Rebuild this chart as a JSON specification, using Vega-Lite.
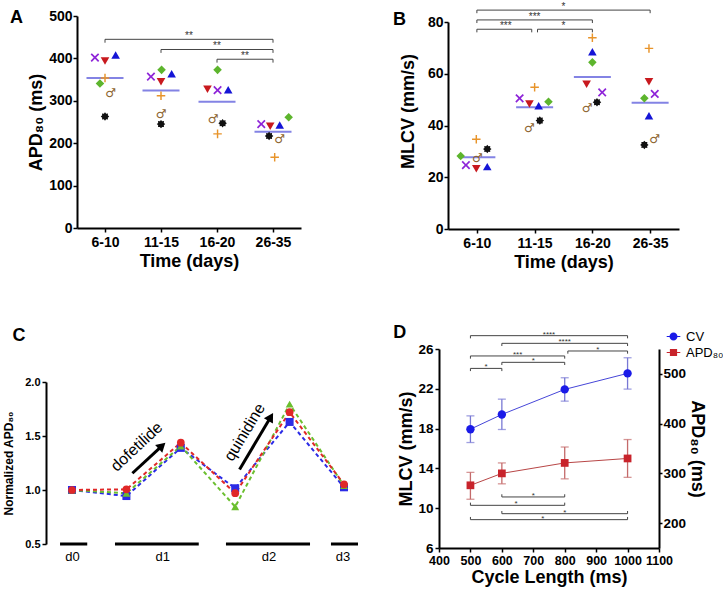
{
  "$schema": "https://vega.github.io/schema/vega-lite/v6.json",
  "width": 723,
  "height": 591,
  "autosize": {"type": "none"},
  "padding": 0,
  "config": {
    "font": "Liberation Sans",
    "view": {"stroke": null},
    "axis": {"grid": false, "domainColor": "#000", "domainWidth": 2, "tickColor": "#000", "tickWidth": 1.5, "tickSize": 4, "labelColor": "#000", "titleColor": "#000", "labelFontWeight": "bold", "titleFontWeight": "bold", "labelFont": "Liberation Sans", "titleFont": "Liberation Sans", "labelOverlap": false, "labelFlush": false},
    "text": {"font": "Liberation Sans"}
  },
  "datasets": {
    "letters": [
      {"panel": "A", "x": -0.696, "y": 483.5},
      {"panel": "B", "x": -0.452, "y": 78.8},
      {"panel": "C", "x": -1.092, "y": 2.38},
      {"panel": "D", "x": 254.6, "y": 27.1}
    ],
    "ptsA": [
      {"group": "6-10", "pos": 0.82, "sym": "x", "apd": 402},
      {"group": "6-10", "pos": 1.0, "sym": "down", "apd": 394},
      {"group": "6-10", "pos": 1.19, "sym": "up", "apd": 408},
      {"group": "6-10", "pos": 1.0, "sym": "plus", "apd": 354},
      {"group": "6-10", "pos": 0.91, "sym": "diamond", "apd": 341},
      {"group": "6-10", "pos": 1.1, "sym": "male", "apd": 318},
      {"group": "6-10", "pos": 1.0, "sym": "star", "apd": 263},
      {"group": "11-15", "pos": 1.82, "sym": "x", "apd": 357},
      {"group": "11-15", "pos": 2.01, "sym": "diamond", "apd": 373},
      {"group": "11-15", "pos": 2.19, "sym": "up", "apd": 364},
      {"group": "11-15", "pos": 2.0, "sym": "down", "apd": 345},
      {"group": "11-15", "pos": 2.0, "sym": "plus", "apd": 312},
      {"group": "11-15", "pos": 2.0, "sym": "male", "apd": 270},
      {"group": "11-15", "pos": 2.0, "sym": "star", "apd": 245},
      {"group": "16-20", "pos": 3.01, "sym": "diamond", "apd": 373},
      {"group": "16-20", "pos": 2.83, "sym": "down", "apd": 327},
      {"group": "16-20", "pos": 3.01, "sym": "x", "apd": 325},
      {"group": "16-20", "pos": 3.2, "sym": "up", "apd": 326},
      {"group": "16-20", "pos": 2.93, "sym": "male", "apd": 256},
      {"group": "16-20", "pos": 3.1, "sym": "star", "apd": 247},
      {"group": "16-20", "pos": 3.01, "sym": "plus", "apd": 222},
      {"group": "26-35", "pos": 3.79, "sym": "x", "apd": 245},
      {"group": "26-35", "pos": 3.95, "sym": "down", "apd": 240},
      {"group": "26-35", "pos": 4.12, "sym": "up", "apd": 243},
      {"group": "26-35", "pos": 4.28, "sym": "diamond", "apd": 261},
      {"group": "26-35", "pos": 3.93, "sym": "star", "apd": 217},
      {"group": "26-35", "pos": 4.12, "sym": "male", "apd": 211},
      {"group": "26-35", "pos": 4.03, "sym": "plus", "apd": 167}
    ],
    "meansA": [
      {"group": "6-10", "pos": 1, "mean": 354},
      {"group": "11-15", "pos": 2, "mean": 324},
      {"group": "16-20", "pos": 3, "mean": 298},
      {"group": "26-35", "pos": 4, "mean": 227}
    ],
    "bracketsA": [
      {"from": 1, "to": 4, "y": 445, "ytick": 437, "mid": 2.5, "label": "**"},
      {"from": 2, "to": 4, "y": 421, "ytick": 413, "mid": 3, "label": "**"},
      {"from": 3, "to": 4, "y": 398, "ytick": 390, "mid": 3.5, "label": "**"}
    ],
    "ptsB": [
      {"group": "6-10", "pos": 0.72, "sym": "diamond", "mlcv": 28.2},
      {"group": "6-10", "pos": 0.81, "sym": "x", "mlcv": 24.7},
      {"group": "6-10", "pos": 0.99, "sym": "down", "mlcv": 23.3},
      {"group": "6-10", "pos": 1.18, "sym": "up", "mlcv": 24.1},
      {"group": "6-10", "pos": 0.99, "sym": "plus", "mlcv": 34.7},
      {"group": "6-10", "pos": 1.01, "sym": "male", "mlcv": 27.3},
      {"group": "6-10", "pos": 1.18, "sym": "star", "mlcv": 30.9},
      {"group": "11-15", "pos": 2.0, "sym": "plus", "mlcv": 54.8},
      {"group": "11-15", "pos": 1.74, "sym": "x", "mlcv": 50.5},
      {"group": "11-15", "pos": 1.91, "sym": "down", "mlcv": 48.3},
      {"group": "11-15", "pos": 2.07, "sym": "up", "mlcv": 47.6},
      {"group": "11-15", "pos": 2.24, "sym": "diamond", "mlcv": 49.2},
      {"group": "11-15", "pos": 2.09, "sym": "star", "mlcv": 41.9},
      {"group": "11-15", "pos": 1.91, "sym": "male", "mlcv": 38.9},
      {"group": "16-20", "pos": 3.0, "sym": "plus", "mlcv": 73.9},
      {"group": "16-20", "pos": 3.0, "sym": "up", "mlcv": 68.5},
      {"group": "16-20", "pos": 3.0, "sym": "diamond", "mlcv": 64.4},
      {"group": "16-20", "pos": 2.9, "sym": "down", "mlcv": 55.9},
      {"group": "16-20", "pos": 3.17, "sym": "x", "mlcv": 52.8},
      {"group": "16-20", "pos": 3.08, "sym": "star", "mlcv": 49.0},
      {"group": "16-20", "pos": 2.91, "sym": "male", "mlcv": 46.6},
      {"group": "26-35", "pos": 3.98, "sym": "plus", "mlcv": 69.8},
      {"group": "26-35", "pos": 3.98, "sym": "down", "mlcv": 56.9},
      {"group": "26-35", "pos": 4.08, "sym": "x", "mlcv": 52.2},
      {"group": "26-35", "pos": 3.9, "sym": "diamond", "mlcv": 50.5},
      {"group": "26-35", "pos": 3.98, "sym": "up", "mlcv": 43.8},
      {"group": "26-35", "pos": 3.9, "sym": "star", "mlcv": 32.5},
      {"group": "26-35", "pos": 4.08, "sym": "male", "mlcv": 34.7}
    ],
    "meansB": [
      {"group": "6-10", "pos": 1, "mean": 27.7},
      {"group": "11-15", "pos": 2, "mean": 47.1},
      {"group": "16-20", "pos": 3, "mean": 58.7},
      {"group": "26-35", "pos": 4, "mean": 48.8}
    ],
    "bracketsB": [
      {"from": 1, "to": 4, "y": 84.6, "ytick": 83.4, "mid": 2.5, "label": "*"},
      {"from": 1, "to": 3, "y": 80.8, "ytick": 79.6, "mid": 2, "label": "***"},
      {"from": 1, "to": 1.95, "y": 77.2, "ytick": 76.0, "mid": 1.5, "label": "***"},
      {"from": 2.05, "to": 3, "y": 77.2, "ytick": 76.0, "mid": 2.5, "label": "*"}
    ],
    "normC": [
      {"step": 0, "stage": "d0", "series": "blue", "value": 1.0},
      {"step": 1, "stage": "d1", "series": "blue", "value": 0.944},
      {"step": 2, "stage": "d1 dofetilide", "series": "blue", "value": 1.39},
      {"step": 3, "stage": "d2", "series": "blue", "value": 1.016},
      {"step": 4, "stage": "d2 quinidine", "series": "blue", "value": 1.63},
      {"step": 5, "stage": "d3", "series": "blue", "value": 1.025},
      {"step": 0, "stage": "d0", "series": "green", "value": 1.0},
      {"step": 1, "stage": "d1", "series": "green", "value": 0.97},
      {"step": 2, "stage": "d1 dofetilide", "series": "green", "value": 1.407},
      {"step": 3, "stage": "d2", "series": "green", "value": 0.845},
      {"step": 4, "stage": "d2 quinidine", "series": "green", "value": 1.795},
      {"step": 5, "stage": "d3", "series": "green", "value": 1.04},
      {"step": 0, "stage": "d0", "series": "red", "value": 1.0},
      {"step": 1, "stage": "d1", "series": "red", "value": 1.006},
      {"step": 2, "stage": "d1 dofetilide", "series": "red", "value": 1.438},
      {"step": 3, "stage": "d2", "series": "red", "value": 0.97},
      {"step": 4, "stage": "d2 quinidine", "series": "red", "value": 1.72},
      {"step": 5, "stage": "d3", "series": "red", "value": 1.053}
    ],
    "phasesC": [
      {"phase": "d0", "start": -0.22, "end": 0.28, "lab": 0.01},
      {"phase": "d1", "start": 0.79, "end": 2.33, "lab": 1.67},
      {"phase": "d2", "start": 2.83, "end": 4.375, "lab": 3.62},
      {"phase": "d3", "start": 4.76, "end": 5.257, "lab": 4.98}
    ],
    "arrowsC": [
      {"drug": "dofetilide", "x0": 1.11, "y0": 1.155, "x1": 1.655, "y1": 1.409, "ang": 47, "tx": 1.19, "ty": 1.40, "tang": -43},
      {"drug": "quinidine", "x0": 3.08, "y0": 1.19, "x1": 3.653, "y1": 1.676, "ang": 31, "tx": 3.175, "ty": 1.534, "tang": -59}
    ],
    "cycleD": [
      {"series": "CV", "cl": 500, "mean": 17.94, "lo": 16.6, "hi": 19.28},
      {"series": "CV", "cl": 600, "mean": 19.42, "lo": 17.91, "hi": 20.96},
      {"series": "CV", "cl": 800, "mean": 21.94, "lo": 20.76, "hi": 23.11},
      {"series": "CV", "cl": 1000, "mean": 23.55, "lo": 21.97, "hi": 25.12},
      {"series": "APD₈₀", "cl": 500, "mean": 276, "lo": 248, "hi": 302},
      {"series": "APD₈₀", "cl": 600, "mean": 300, "lo": 279, "hi": 321},
      {"series": "APD₈₀", "cl": 800, "mean": 321, "lo": 289, "hi": 353},
      {"series": "APD₈₀", "cl": 1000, "mean": 330, "lo": 292, "hi": 368}
    ],
    "bracketsD": [
      {"from": 500, "to": 1000, "y": 27.34, "ytick": 27.07, "mid": 750, "label": "****"},
      {"from": 600, "to": 1000, "y": 26.57, "ytick": 26.3, "mid": 800, "label": "****"},
      {"from": 810, "to": 1000, "y": 25.8, "ytick": 25.53, "mid": 905, "label": "*"},
      {"from": 500, "to": 800, "y": 25.3, "ytick": 25.03, "mid": 650, "label": "***"},
      {"from": 600, "to": 800, "y": 24.66, "ytick": 24.39, "mid": 700, "label": "*"},
      {"from": 500, "to": 600, "y": 24.05, "ytick": 23.78, "mid": 550, "label": "*"},
      {"from": 600, "to": 800, "y": 11.13, "ytick": 11.4, "mid": 700, "label": "*"},
      {"from": 500, "to": 800, "y": 10.29, "ytick": 10.56, "mid": 645, "label": "*"},
      {"from": 600, "to": 1000, "y": 9.45, "ytick": 9.72, "mid": 800, "label": "*"},
      {"from": 500, "to": 1000, "y": 8.85, "ytick": 9.12, "mid": 730, "label": "*"}
    ]
  },
  "layer": [
    {
      "layer": [
        {"data": {"name": "letters"}, "transform": [{"filter": "datum.panel == 'A'"}], "mark": {"type": "text", "fontSize": 18, "fontWeight": "bold", "align": "left", "baseline": "alphabetic", "fill": "#000"},
         "encoding": {"x": {"field": "x", "type": "quantitative", "scale": {"domain": [0.5, 4.5], "range": [77, 301], "nice": false, "zero": false}}, "y": {"field": "y", "type": "quantitative", "scale": {"domain": [0, 500], "range": [228, 16], "nice": false, "zero": false}}, "text": {"field": "panel"}}},
        {"data": {"name": "bracketsA"}, "mark": {"type": "rule", "color": "#444", "strokeWidth": 1},
         "encoding": {"x": {"field": "from", "type": "quantitative", "scale": {"domain": [0.5, 4.5], "range": [77, 301], "nice": false, "zero": false}}, "x2": {"field": "to"}, "y": {"field": "y", "type": "quantitative", "scale": {"domain": [0, 500], "range": [228, 16], "nice": false, "zero": false}}}},
        {"data": {"name": "bracketsA"}, "mark": {"type": "rule", "color": "#444", "strokeWidth": 1},
         "encoding": {"x": {"field": "from", "type": "quantitative", "scale": {"domain": [0.5, 4.5], "range": [77, 301], "nice": false, "zero": false}}, "y": {"field": "y", "type": "quantitative", "scale": {"domain": [0, 500], "range": [228, 16], "nice": false, "zero": false}}, "y2": {"field": "ytick"}}},
        {"data": {"name": "bracketsA"}, "mark": {"type": "rule", "color": "#444", "strokeWidth": 1},
         "encoding": {"x": {"field": "to", "type": "quantitative", "scale": {"domain": [0.5, 4.5], "range": [77, 301], "nice": false, "zero": false}}, "y": {"field": "y", "type": "quantitative", "scale": {"domain": [0, 500], "range": [228, 16], "nice": false, "zero": false}}, "y2": {"field": "ytick"}}},
        {"data": {"name": "bracketsA"}, "mark": {"type": "text", "fontSize": 10, "baseline": "alphabetic", "fill": "#333"},
         "encoding": {"x": {"field": "mid", "type": "quantitative", "scale": {"domain": [0.5, 4.5], "range": [77, 301], "nice": false, "zero": false}}, "y": {"field": "y", "type": "quantitative", "scale": {"domain": [0, 500], "range": [228, 16], "nice": false, "zero": false}}, "text": {"field": "label"}}},
        {"data": {"name": "meansA"}, "mark": {"type": "tick", "orient": "horizontal", "size": 37, "thickness": 2, "color": "#4f4fd9"},
         "encoding": {"x": {"field": "pos", "type": "quantitative", "scale": {"domain": [0.5, 4.5], "range": [77, 301], "nice": false, "zero": false}}, "y": {"field": "mean", "type": "quantitative", "scale": {"domain": [0, 500], "range": [228, 16], "nice": false, "zero": false}}}},
        {"data": {"name": "ptsA"}, "transform": [{"filter": "datum.sym != 'male'"}], "mark": {"type": "point", "filled": true, "opacity": 1},
         "encoding": {
           "x": {"field": "pos", "type": "quantitative", "scale": {"domain": [0.5, 4.5], "range": [77, 301], "nice": false, "zero": false},
                 "axis": {"orient": "bottom", "offset": -363, "values": [1, 2, 3, 4], "labelExpr": "['6-10','11-15','16-20','26-35'][datum.value-1]", "title": "Time (days)", "labelFontSize": 14, "titleFontSize": 18, "labelPadding": 3, "titlePadding": 3, "labelOverlap": false, "labelFlush": false}},
           "y": {"field": "apd", "type": "quantitative", "scale": {"domain": [0, 500], "range": [228, 16], "nice": false, "zero": false},
                 "axis": {"orient": "left", "offset": -77, "values": [0, 100, 200, 300, 400, 500], "title": "APD₈₀ (ms)", "labelFontSize": 14, "titleFontSize": 18, "labelPadding": 1, "titlePadding": 3, "labelOverlap": false, "labelFlush": false}},
           "shape": {"field": "sym", "type": "nominal", "legend": null, "scale": {"domain": ["x", "down", "up", "diamond", "plus", "star"], "range": ["M-1,-0.72L-0.72,-1L0,-0.28L0.72,-1L1,-0.72L0.28,0L1,0.72L0.72,1L0,0.28L-0.72,1L-1,0.72L-0.28,0Z", "triangle-down", "triangle-up", "diamond", "M-0.17,-1H0.17V-0.17H1V0.17H0.17V1H-0.17V0.17H-1V-0.17H-0.17Z", "M1,0L0.665,0.276L0.707,0.707L0.276,0.665L0,1L-0.276,0.665L-0.707,0.707L-0.665,0.276L-1,0L-0.665,-0.276L-0.707,-0.707L-0.276,-0.665L0,-1L0.276,-0.665L0.707,-0.707L0.665,-0.276Z"]}},
           "color": {"field": "sym", "type": "nominal", "legend": null, "scale": {"domain": ["x", "down", "up", "diamond", "plus", "star"], "range": ["#8e24d8", "#c8191e", "#1515d6", "#5db52d", "#e8942a", "#111111"]}},
           "size": {"field": "sym", "type": "ordinal", "legend": null, "scale": {"domain": ["x", "down", "up", "diamond", "plus", "star"], "range": [75, 72, 72, 72, 60, 55]}}
         }},
        {"data": {"name": "ptsA"}, "transform": [{"filter": "datum.sym == 'male'"}], "mark": {"type": "text", "text": "♂", "font": "DejaVu Sans", "fontWeight": "bold", "fontSize": 12, "fill": "#8c6430", "baseline": "middle", "align": "center"},
         "encoding": {"x": {"field": "pos", "type": "quantitative", "scale": {"domain": [0.5, 4.5], "range": [77, 301], "nice": false, "zero": false}}, "y": {"field": "apd", "type": "quantitative", "scale": {"domain": [0, 500], "range": [228, 16], "nice": false, "zero": false}}}}
      ]
    },
    {
      "layer": [
        {"data": {"name": "letters"}, "transform": [{"filter": "datum.panel == 'B'"}], "mark": {"type": "text", "fontSize": 18, "fontWeight": "bold", "align": "left", "baseline": "alphabetic", "fill": "#000"},
         "encoding": {"x": {"field": "x", "type": "quantitative", "scale": {"domain": [0.5, 4.5], "range": [448, 679], "nice": false, "zero": false}}, "y": {"field": "y", "type": "quantitative", "scale": {"domain": [0, 80], "range": [229, 22], "nice": false, "zero": false}}, "text": {"field": "panel"}}},
        {"data": {"name": "bracketsB"}, "mark": {"type": "rule", "color": "#444", "strokeWidth": 1},
         "encoding": {"x": {"field": "from", "type": "quantitative", "scale": {"domain": [0.5, 4.5], "range": [448, 679], "nice": false, "zero": false}}, "x2": {"field": "to"}, "y": {"field": "y", "type": "quantitative", "scale": {"domain": [0, 80], "range": [229, 22], "nice": false, "zero": false}}}},
        {"data": {"name": "bracketsB"}, "mark": {"type": "rule", "color": "#444", "strokeWidth": 1},
         "encoding": {"x": {"field": "from", "type": "quantitative", "scale": {"domain": [0.5, 4.5], "range": [448, 679], "nice": false, "zero": false}}, "y": {"field": "y", "type": "quantitative", "scale": {"domain": [0, 80], "range": [229, 22], "nice": false, "zero": false}}, "y2": {"field": "ytick"}}},
        {"data": {"name": "bracketsB"}, "mark": {"type": "rule", "color": "#444", "strokeWidth": 1},
         "encoding": {"x": {"field": "to", "type": "quantitative", "scale": {"domain": [0.5, 4.5], "range": [448, 679], "nice": false, "zero": false}}, "y": {"field": "y", "type": "quantitative", "scale": {"domain": [0, 80], "range": [229, 22], "nice": false, "zero": false}}, "y2": {"field": "ytick"}}},
        {"data": {"name": "bracketsB"}, "mark": {"type": "text", "fontSize": 10, "baseline": "alphabetic", "fill": "#333"},
         "encoding": {"x": {"field": "mid", "type": "quantitative", "scale": {"domain": [0.5, 4.5], "range": [448, 679], "nice": false, "zero": false}}, "y": {"field": "y", "type": "quantitative", "scale": {"domain": [0, 80], "range": [229, 22], "nice": false, "zero": false}}, "text": {"field": "label"}}},
        {"data": {"name": "meansB"}, "mark": {"type": "tick", "orient": "horizontal", "size": 37, "thickness": 2, "color": "#4f4fd9"},
         "encoding": {"x": {"field": "pos", "type": "quantitative", "scale": {"domain": [0.5, 4.5], "range": [448, 679], "nice": false, "zero": false}}, "y": {"field": "mean", "type": "quantitative", "scale": {"domain": [0, 80], "range": [229, 22], "nice": false, "zero": false}}}},
        {"data": {"name": "ptsB"}, "transform": [{"filter": "datum.sym != 'male'"}], "mark": {"type": "point", "filled": true, "opacity": 1},
         "encoding": {
           "x": {"field": "pos", "type": "quantitative", "scale": {"domain": [0.5, 4.5], "range": [448, 679], "nice": false, "zero": false},
                 "axis": {"orient": "bottom", "offset": -362, "values": [1, 2, 3, 4], "labelExpr": "['6-10','11-15','16-20','26-35'][datum.value-1]", "title": "Time (days)", "labelFontSize": 14, "titleFontSize": 18, "labelPadding": 3, "titlePadding": 3, "labelOverlap": false, "labelFlush": false}},
           "y": {"field": "mlcv", "type": "quantitative", "scale": {"domain": [0, 80], "range": [229, 22], "nice": false, "zero": false},
                 "axis": {"orient": "left", "offset": -448, "values": [0, 20, 40, 60, 80], "title": "MLCV (mm/s)", "titleY": 111, "labelFontSize": 14, "titleFontSize": 18, "labelPadding": 1, "titlePadding": 10, "labelOverlap": false, "labelFlush": false}},
           "shape": {"field": "sym", "type": "nominal", "legend": null, "scale": {"domain": ["x", "down", "up", "diamond", "plus", "star"], "range": ["M-1,-0.72L-0.72,-1L0,-0.28L0.72,-1L1,-0.72L0.28,0L1,0.72L0.72,1L0,0.28L-0.72,1L-1,0.72L-0.28,0Z", "triangle-down", "triangle-up", "diamond", "M-0.17,-1H0.17V-0.17H1V0.17H0.17V1H-0.17V0.17H-1V-0.17H-0.17Z", "M1,0L0.665,0.276L0.707,0.707L0.276,0.665L0,1L-0.276,0.665L-0.707,0.707L-0.665,0.276L-1,0L-0.665,-0.276L-0.707,-0.707L-0.276,-0.665L0,-1L0.276,-0.665L0.707,-0.707L0.665,-0.276Z"]}},
           "color": {"field": "sym", "type": "nominal", "legend": null, "scale": {"domain": ["x", "down", "up", "diamond", "plus", "star"], "range": ["#8e24d8", "#c8191e", "#1515d6", "#5db52d", "#e8942a", "#111111"]}},
           "size": {"field": "sym", "type": "ordinal", "legend": null, "scale": {"domain": ["x", "down", "up", "diamond", "plus", "star"], "range": [75, 72, 72, 72, 60, 55]}}
         }},
        {"data": {"name": "ptsB"}, "transform": [{"filter": "datum.sym == 'male'"}], "mark": {"type": "text", "text": "♂", "font": "DejaVu Sans", "fontWeight": "bold", "fontSize": 12, "fill": "#8c6430", "baseline": "middle", "align": "center"},
         "encoding": {"x": {"field": "pos", "type": "quantitative", "scale": {"domain": [0.5, 4.5], "range": [448, 679], "nice": false, "zero": false}}, "y": {"field": "mlcv", "type": "quantitative", "scale": {"domain": [0, 80], "range": [229, 22], "nice": false, "zero": false}}}}
      ]
    },
    {
      "layer": [
        {"data": {"name": "letters"}, "transform": [{"filter": "datum.panel == 'C'"}], "mark": {"type": "text", "fontSize": 18, "fontWeight": "bold", "align": "left", "baseline": "alphabetic", "fill": "#000"},
         "encoding": {"x": {"field": "x", "type": "quantitative", "axis": null, "scale": {"domain": [-0.478, 5.257], "range": [46, 358], "nice": false, "zero": false}}, "y": {"field": "y", "type": "quantitative", "scale": {"domain": [0.5, 2.0], "range": [544, 382], "nice": false, "zero": false}}, "text": {"field": "panel"}}},
        {"data": {"name": "phasesC"}, "mark": {"type": "rule", "strokeWidth": 3, "color": "#000"},
         "encoding": {"x": {"field": "start", "type": "quantitative", "axis": null, "scale": {"domain": [-0.478, 5.257], "range": [46, 358], "nice": false, "zero": false}}, "x2": {"field": "end"}, "y": {"datum": 0.5, "type": "quantitative", "scale": {"domain": [0.5, 2.0], "range": [544, 382], "nice": false, "zero": false}}}},
        {"data": {"name": "phasesC"}, "mark": {"type": "text", "fontSize": 13, "baseline": "top", "dy": 7, "fill": "#000"},
         "encoding": {"x": {"field": "lab", "type": "quantitative", "axis": null, "scale": {"domain": [-0.478, 5.257], "range": [46, 358], "nice": false, "zero": false}}, "y": {"datum": 0.5, "type": "quantitative", "scale": {"domain": [0.5, 2.0], "range": [544, 382], "nice": false, "zero": false}}, "text": {"field": "phase"}}},
        {"data": {"name": "normC"}, "mark": {"type": "line", "strokeDash": [4, 3], "strokeWidth": 2},
         "encoding": {
           "x": {"field": "step", "type": "quantitative", "axis": null, "scale": {"domain": [-0.478, 5.257], "range": [46, 358], "nice": false, "zero": false}},
           "y": {"field": "value", "type": "quantitative", "scale": {"domain": [0.5, 2.0], "range": [544, 382], "nice": false, "zero": false},
                 "axis": {"orient": "left", "offset": -46, "values": [0.5, 1, 1.5, 2], "format": ".1f", "title": "Normalized APD₈₀", "labelFontSize": 11, "titleFontSize": 12, "labelPadding": 2, "titlePadding": 9, "labelOverlap": false, "labelFlush": false}},
           "color": {"field": "series", "type": "nominal", "legend": null, "scale": {"domain": ["blue", "green", "red"], "range": ["#2b2be6", "#6bbf2f", "#e02828"]}}
         }},
        {"data": {"name": "normC"}, "mark": {"type": "point", "filled": true, "opacity": 1},
         "encoding": {
           "x": {"field": "step", "type": "quantitative", "axis": null, "scale": {"domain": [-0.478, 5.257], "range": [46, 358], "nice": false, "zero": false}},
           "y": {"field": "value", "type": "quantitative", "scale": {"domain": [0.5, 2.0], "range": [544, 382], "nice": false, "zero": false}},
           "color": {"field": "series", "type": "nominal", "legend": null, "scale": {"domain": ["blue", "green", "red"], "range": ["#2b2be6", "#6bbf2f", "#e02828"]}},
           "shape": {"field": "series", "type": "nominal", "legend": null, "scale": {"domain": ["blue", "green", "red"], "range": ["square", "triangle-up", "circle"]}},
           "size": {"field": "series", "type": "ordinal", "legend": null, "scale": {"domain": ["blue", "green", "red"], "range": [64, 60, 70]}}
         }},
        {"data": {"name": "arrowsC"}, "mark": {"type": "rule", "strokeWidth": 3, "color": "#000"},
         "encoding": {"x": {"field": "x0", "type": "quantitative", "axis": null, "scale": {"domain": [-0.478, 5.257], "range": [46, 358], "nice": false, "zero": false}}, "x2": {"field": "x1"}, "y": {"field": "y0", "type": "quantitative", "scale": {"domain": [0.5, 2.0], "range": [544, 382], "nice": false, "zero": false}}, "y2": {"field": "y1"}}},
        {"data": {"name": "arrowsC"}, "mark": {"type": "point", "shape": "triangle-up", "filled": true, "color": "#000", "opacity": 1, "size": 110},
         "encoding": {"x": {"field": "x1", "type": "quantitative", "axis": null, "scale": {"domain": [-0.478, 5.257], "range": [46, 358], "nice": false, "zero": false}}, "y": {"field": "y1", "type": "quantitative", "scale": {"domain": [0.5, 2.0], "range": [544, 382], "nice": false, "zero": false}}, "angle": {"field": "ang", "type": "quantitative", "scale": null}}},
        {"data": {"name": "arrowsC"}, "mark": {"type": "text", "fontSize": 16, "fill": "#000", "baseline": "middle", "align": "center"},
         "encoding": {"x": {"field": "tx", "type": "quantitative", "axis": null, "scale": {"domain": [-0.478, 5.257], "range": [46, 358], "nice": false, "zero": false}}, "y": {"field": "ty", "type": "quantitative", "scale": {"domain": [0.5, 2.0], "range": [544, 382], "nice": false, "zero": false}}, "angle": {"field": "tang", "type": "quantitative", "scale": null}, "text": {"field": "drug"}}}
      ]
    },
    {
      "layer": [
        {
          "layer": [
            {"data": {"name": "letters"}, "transform": [{"filter": "datum.panel == 'D'"}], "mark": {"type": "text", "fontSize": 18, "fontWeight": "bold", "align": "left", "baseline": "alphabetic", "fill": "#000"},
             "encoding": {"x": {"field": "x", "type": "quantitative", "scale": {"domain": [400, 1100], "range": [439, 659], "nice": false, "zero": false}}, "y": {"field": "y", "type": "quantitative", "scale": {"domain": [6, 26], "range": [548, 349], "nice": false, "zero": false}}, "text": {"field": "panel"}}},
            {"data": {"name": "bracketsD"}, "mark": {"type": "rule", "color": "#444", "strokeWidth": 1},
             "encoding": {"x": {"field": "from", "type": "quantitative", "scale": {"domain": [400, 1100], "range": [439, 659], "nice": false, "zero": false}}, "x2": {"field": "to"}, "y": {"field": "y", "type": "quantitative", "scale": {"domain": [6, 26], "range": [548, 349], "nice": false, "zero": false}}}},
            {"data": {"name": "bracketsD"}, "mark": {"type": "rule", "color": "#444", "strokeWidth": 1},
             "encoding": {"x": {"field": "from", "type": "quantitative", "scale": {"domain": [400, 1100], "range": [439, 659], "nice": false, "zero": false}}, "y": {"field": "y", "type": "quantitative", "scale": {"domain": [6, 26], "range": [548, 349], "nice": false, "zero": false}}, "y2": {"field": "ytick"}}},
            {"data": {"name": "bracketsD"}, "mark": {"type": "rule", "color": "#444", "strokeWidth": 1},
             "encoding": {"x": {"field": "to", "type": "quantitative", "scale": {"domain": [400, 1100], "range": [439, 659], "nice": false, "zero": false}}, "y": {"field": "y", "type": "quantitative", "scale": {"domain": [6, 26], "range": [548, 349], "nice": false, "zero": false}}, "y2": {"field": "ytick"}}},
            {"data": {"name": "bracketsD"}, "mark": {"type": "text", "fontSize": 8, "baseline": "alphabetic", "dy": 1, "fill": "#333"},
             "encoding": {"x": {"field": "mid", "type": "quantitative", "scale": {"domain": [400, 1100], "range": [439, 659], "nice": false, "zero": false}}, "y": {"field": "y", "type": "quantitative", "scale": {"domain": [6, 26], "range": [548, 349], "nice": false, "zero": false}}, "text": {"field": "label"}}},
            {"data": {"name": "cycleD"}, "transform": [{"filter": "datum.series == 'CV'"}], "mark": {"type": "rule", "color": "#7878d4", "strokeWidth": 1.3},
             "encoding": {"x": {"field": "cl", "type": "quantitative", "scale": {"domain": [400, 1100], "range": [439, 659], "nice": false, "zero": false}}, "y": {"field": "lo", "type": "quantitative", "scale": {"domain": [6, 26], "range": [548, 349], "nice": false, "zero": false}}, "y2": {"field": "hi"}}},
            {"data": {"name": "cycleD"}, "transform": [{"filter": "datum.series == 'CV'"}], "mark": {"type": "tick", "orient": "horizontal", "size": 8, "thickness": 1.3, "color": "#7878d4"},
             "encoding": {"x": {"field": "cl", "type": "quantitative", "scale": {"domain": [400, 1100], "range": [439, 659], "nice": false, "zero": false}}, "y": {"field": "lo", "type": "quantitative", "scale": {"domain": [6, 26], "range": [548, 349], "nice": false, "zero": false}}}},
            {"data": {"name": "cycleD"}, "transform": [{"filter": "datum.series == 'CV'"}], "mark": {"type": "tick", "orient": "horizontal", "size": 8, "thickness": 1.3, "color": "#7878d4"},
             "encoding": {"x": {"field": "cl", "type": "quantitative", "scale": {"domain": [400, 1100], "range": [439, 659], "nice": false, "zero": false}}, "y": {"field": "hi", "type": "quantitative", "scale": {"domain": [6, 26], "range": [548, 349], "nice": false, "zero": false}}}},
            {"data": {"name": "cycleD"}, "transform": [{"filter": "datum.series == 'CV'"}], "mark": {"type": "line", "color": "#4646d8", "strokeWidth": 1},
             "encoding": {"x": {"field": "cl", "type": "quantitative", "scale": {"domain": [400, 1100], "range": [439, 659], "nice": false, "zero": false}}, "y": {"field": "mean", "type": "quantitative", "scale": {"domain": [6, 26], "range": [548, 349], "nice": false, "zero": false}}}},
            {"data": {"name": "cycleD"}, "transform": [{"filter": "datum.series == 'CV'"}], "mark": {"type": "point", "shape": "circle", "filled": true, "opacity": 1, "size": 70},
             "encoding": {
               "x": {"field": "cl", "type": "quantitative", "scale": {"domain": [400, 1100], "range": [439, 659], "nice": false, "zero": false},
                     "axis": {"orient": "bottom", "offset": -43, "values": [400, 500, 600, 700, 800, 900, 1000, 1100], "format": "d", "title": "Cycle Length (ms)", "labelFontSize": 12.5, "titleFontSize": 18, "labelPadding": 2, "titlePadding": 2, "labelOverlap": false, "labelFlush": false}},
               "y": {"field": "mean", "type": "quantitative", "scale": {"domain": [6, 26], "range": [548, 349], "nice": false, "zero": false},
                     "axis": {"orient": "left", "offset": -439, "values": [6, 10, 14, 18, 22, 26], "title": "MLCV (mm/s)", "labelFontSize": 13.5, "titleFontSize": 18, "labelPadding": 2, "titlePadding": 2, "labelOverlap": false, "labelFlush": false}},
               "color": {"field": "series", "type": "nominal", "scale": {"domain": ["CV", "APD₈₀"], "range": ["#1a1ae8", "#c8232b"]},
                         "legend": {"orient": "none", "legendX": 667, "legendY": 330, "title": null, "labelFontSize": 13, "labelFontWeight": "normal", "labelColor": "#000", "symbolSize": 64, "labelOffset": 6, "rowPadding": 2, "padding": 0}}
             }}
          ]
        },
        {
          "layer": [
            {"data": {"name": "cycleD"}, "transform": [{"filter": "datum.series != 'CV'"}], "mark": {"type": "rule", "color": "#c46a6a", "strokeWidth": 1.3},
             "encoding": {"x": {"field": "cl", "type": "quantitative", "scale": {"domain": [400, 1100], "range": [439, 659], "nice": false, "zero": false}}, "y": {"field": "lo", "type": "quantitative", "scale": {"domain": [150, 550], "range": [548, 349], "nice": false, "zero": false}}, "y2": {"field": "hi"}}},
            {"data": {"name": "cycleD"}, "transform": [{"filter": "datum.series != 'CV'"}], "mark": {"type": "tick", "orient": "horizontal", "size": 8, "thickness": 1.3, "color": "#c46a6a"},
             "encoding": {"x": {"field": "cl", "type": "quantitative", "scale": {"domain": [400, 1100], "range": [439, 659], "nice": false, "zero": false}}, "y": {"field": "lo", "type": "quantitative", "scale": {"domain": [150, 550], "range": [548, 349], "nice": false, "zero": false}}}},
            {"data": {"name": "cycleD"}, "transform": [{"filter": "datum.series != 'CV'"}], "mark": {"type": "tick", "orient": "horizontal", "size": 8, "thickness": 1.3, "color": "#c46a6a"},
             "encoding": {"x": {"field": "cl", "type": "quantitative", "scale": {"domain": [400, 1100], "range": [439, 659], "nice": false, "zero": false}}, "y": {"field": "hi", "type": "quantitative", "scale": {"domain": [150, 550], "range": [548, 349], "nice": false, "zero": false}}}},
            {"data": {"name": "cycleD"}, "transform": [{"filter": "datum.series != 'CV'"}], "mark": {"type": "line", "color": "#b84646", "strokeWidth": 1},
             "encoding": {"x": {"field": "cl", "type": "quantitative", "scale": {"domain": [400, 1100], "range": [439, 659], "nice": false, "zero": false}}, "y": {"field": "mean", "type": "quantitative", "scale": {"domain": [150, 550], "range": [548, 349], "nice": false, "zero": false}}}},
            {"data": {"name": "cycleD"}, "transform": [{"filter": "datum.series != 'CV'"}], "mark": {"type": "point", "shape": "square", "filled": true, "opacity": 1, "size": 60},
             "encoding": {
               "x": {"field": "cl", "type": "quantitative", "scale": {"domain": [400, 1100], "range": [439, 659], "nice": false, "zero": false}},
               "y": {"field": "mean", "type": "quantitative", "scale": {"domain": [150, 550], "range": [548, 349], "nice": false, "zero": false},
                     "axis": {"orient": "right", "offset": -64, "values": [200, 300, 400, 500], "title": "APD₈₀ (ms)", "labelFontSize": 13.5, "titleFontSize": 18, "tickSize": 3, "labelPadding": 1, "titlePadding": 2, "labelOverlap": false, "labelFlush": false}},
               "color": {"field": "series", "type": "nominal", "scale": {"domain": ["CV", "APD₈₀"], "range": ["#1a1ae8", "#c8232b"]}}
             }},
            {"data": {"name": "cycleD"}, "transform": [{"filter": "false"}], "mark": {"type": "point", "filled": true, "opacity": 1},
             "encoding": {
               "x": {"field": "cl", "type": "quantitative", "scale": {"domain": [400, 1100], "range": [439, 659], "nice": false, "zero": false}},
               "y": {"field": "mean", "type": "quantitative", "scale": {"domain": [150, 550], "range": [548, 349], "nice": false, "zero": false}},
               "color": {"field": "series", "type": "nominal", "scale": {"domain": ["CV", "APD₈₀"], "range": ["#1a1ae8", "#c8232b"]}},
               "shape": {"field": "series", "type": "nominal", "scale": {"domain": ["CV", "APD₈₀"], "range": ["M-1.7,-0.13H1.7V0.13H-1.7Z M1,0A1,1 0 1,1 -1,0A1,1 0 1,1 1,0Z", "M-1.7,-0.13H1.7V0.13H-1.7Z M-0.9,-0.9H0.9V0.9H-0.9Z"]},
                         "legend": {"orient": "none", "legendX": 667, "legendY": 330, "title": null, "labelFontSize": 13, "labelFontWeight": "normal", "labelColor": "#000", "symbolSize": 64, "labelOffset": 6, "rowPadding": 2, "padding": 0}}
             }}
          ]
        }
      ],
      "resolve": {"scale": {"y": "independent"}}
    }
  ],
  "resolve": {"scale": {"x": "independent", "y": "independent", "color": "independent", "shape": "independent", "size": "independent"}}
}
